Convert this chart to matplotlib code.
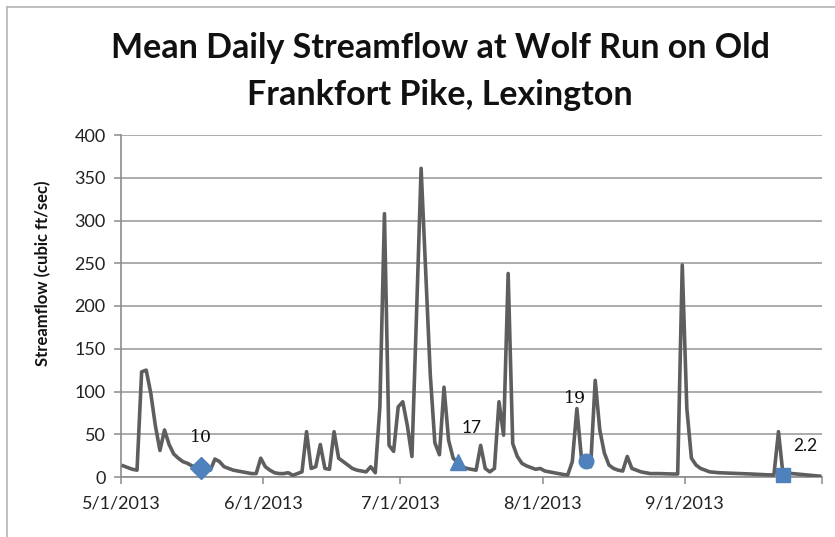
import numpy as np
import matplotlib
matplotlib.use("Agg")
import matplotlib.pyplot as plt
from matplotlib.lines import Line2D

# Mean daily streamflow, Wolf Run at Old Frankfort Pike (cubic ft/sec), 5/1/2013 - 9/30/2013
start_date = "2013-05-01"
end_date = "2013-10-01"
flow = [
    13, 11, 9, 8, 123, 125, 98, 60, 31, 55,
    38, 27, 22, 18, 16, 13, 12, 10, 9, 8,
    21, 18, 12, 10, 8, 7, 6, 5, 4, 4,
    22, 12, 8, 5, 4, 4, 5, 2, 4, 6,
    53, 10, 12, 38, 10, 9, 53, 22, 18, 14,
    10, 8, 7, 6, 12, 5, 82, 308, 37, 30,
    82, 88, 60, 24, 190, 361, 240, 120, 40, 26,
    105, 43, 22, 17, 12, 10, 9, 8, 37, 10,
    6, 10, 88, 49, 238, 39, 24, 16, 13, 11,
    9, 10, 7, 6, 5, 4, 3, 2.3, 18, 80,
    22, 19, 12, 113, 55, 28, 14, 10, 8, 7,
    24, 10, 8, 6, 5, 4, 4, 4, 3.8, 3.6,
    3.5, 3.5, 248, 80, 22, 14, 10, 8, 6, 5.5,
    5, 4.8, 4.6, 4.4, 4.2, 4, 3.8, 3.5, 3.2, 3,
    2.7, 2.5, 2.3, 53, 2.2, 5, 4, 3.5, 3, 2.5,
    2, 1.5, 1,
]

# Sampling days highlighted on the hydrograph
sample_dates = ["2013-05-18", "2013-07-13", "2013-08-10", "2013-09-22"]
sample_values = [10, 17, 19, 2.2]
sample_labels = ["10", "17", "19", "2.2"]

tick_dates = ["2013-05-01", "2013-06-01", "2013-07-01", "2013-08-01", "2013-09-01"]
tick_labels = ["5/1/2013", "6/1/2013", "7/1/2013", "8/1/2013", "9/1/2013"]
y_ticks = [0, 50, 100, 150, 200, 250, 300, 350, 400]

# each daily value sits in the middle of its day
half_day = np.timedelta64(12, "h")
days = np.arange(np.datetime64(start_date), np.datetime64(end_date), dtype="datetime64[D]")
x = days.astype("datetime64[h]") + half_day

W, H = 835, 537
fig = plt.figure(figsize=(W / 100, H / 100), dpi=100)
fig.patch.set_facecolor("white")

# chart border (top and left edges visible)
fig.add_artist(Line2D([7 / W, 1], [1 - 7 / H, 1 - 7 / H], color="#b4b4b4", lw=1.2))
fig.add_artist(Line2D([7 / W, 7 / W], [0, 1 - 7 / H], color="#b4b4b4", lw=1.2))

ax = fig.add_axes([121 / W, 1 - 477 / H, (822 - 121) / W, (477 - 135) / H])

ax.plot(x, flow, color="#5e5e5e", lw=2.6, solid_joinstyle="round", zorder=3)

marker_shapes = ["D", "^", "o", "s"]
marker_sizes = [11, 12, 10.5, 9.5]
label_offsets = [(0, 31), (14, 34), (-11, 62), (22, 29)]
label_fonts = ["DejaVu Serif", "Lato", "DejaVu Serif", "Lato"]
for d, v, lab, m, ms, off, fam in zip(sample_dates, sample_values, sample_labels,
                                       marker_shapes, marker_sizes, label_offsets, label_fonts):
    xd = np.datetime64(d).astype("datetime64[h]") + half_day
    ax.plot([xd], [v], marker=m, ms=ms, color="#4f81bd", mec="#4f81bd", ls="none",
            zorder=4, clip_on=False)
    ax.annotate(lab, (xd, v), xytext=off, textcoords="offset pixels",
                ha="center", va="center", fontsize=12.5, family=fam, color="#111111", zorder=5)

ax.set_xlim(np.datetime64(start_date), np.datetime64(end_date))
ax.set_ylim(0, 400)
ax.set_yticks(y_ticks)
ax.set_xticks([np.datetime64(t) for t in tick_dates] + [np.datetime64(end_date)])
ax.set_xticklabels(tick_labels + [""])

ax.yaxis.grid(True, color="#a6a6a6", lw=1.3)
ax.set_axisbelow(True)
for s in ["top", "right"]:
    ax.spines[s].set_visible(False)
for s in ["left", "bottom"]:
    ax.spines[s].set_color("#8c8c8c")
    ax.spines[s].set_linewidth(1.2)
ax.tick_params(axis="both", direction="out", length=5, color="#8c8c8c", width=1.1,
               labelsize=13, labelcolor="#222222")
ax.tick_params(axis="y", pad=6)
ax.tick_params(axis="x", pad=8)
for lbl in ax.get_xticklabels() + ax.get_yticklabels():
    lbl.set_family("Lato")

fig.text(43 / W, 1 - 273 / H, "Streamflow (cubic ft/sec)", rotation=90, ha="center", va="center",
         fontsize=12, fontweight="bold", family="Lato", color="#111111")

fig.text(440 / W, 1 - 48 / H, "Mean Daily Streamflow at Wolf Run on Old", ha="center", va="center",
         fontsize=24.5, fontweight="bold", family="Lato", color="#111111")
fig.text(440 / W, 1 - 95 / H, "Frankfort Pike, Lexington", ha="center", va="center",
         fontsize=24.5, fontweight="bold", family="Lato", color="#111111")

fig.savefig("out.png", dpi=100, facecolor="white")
